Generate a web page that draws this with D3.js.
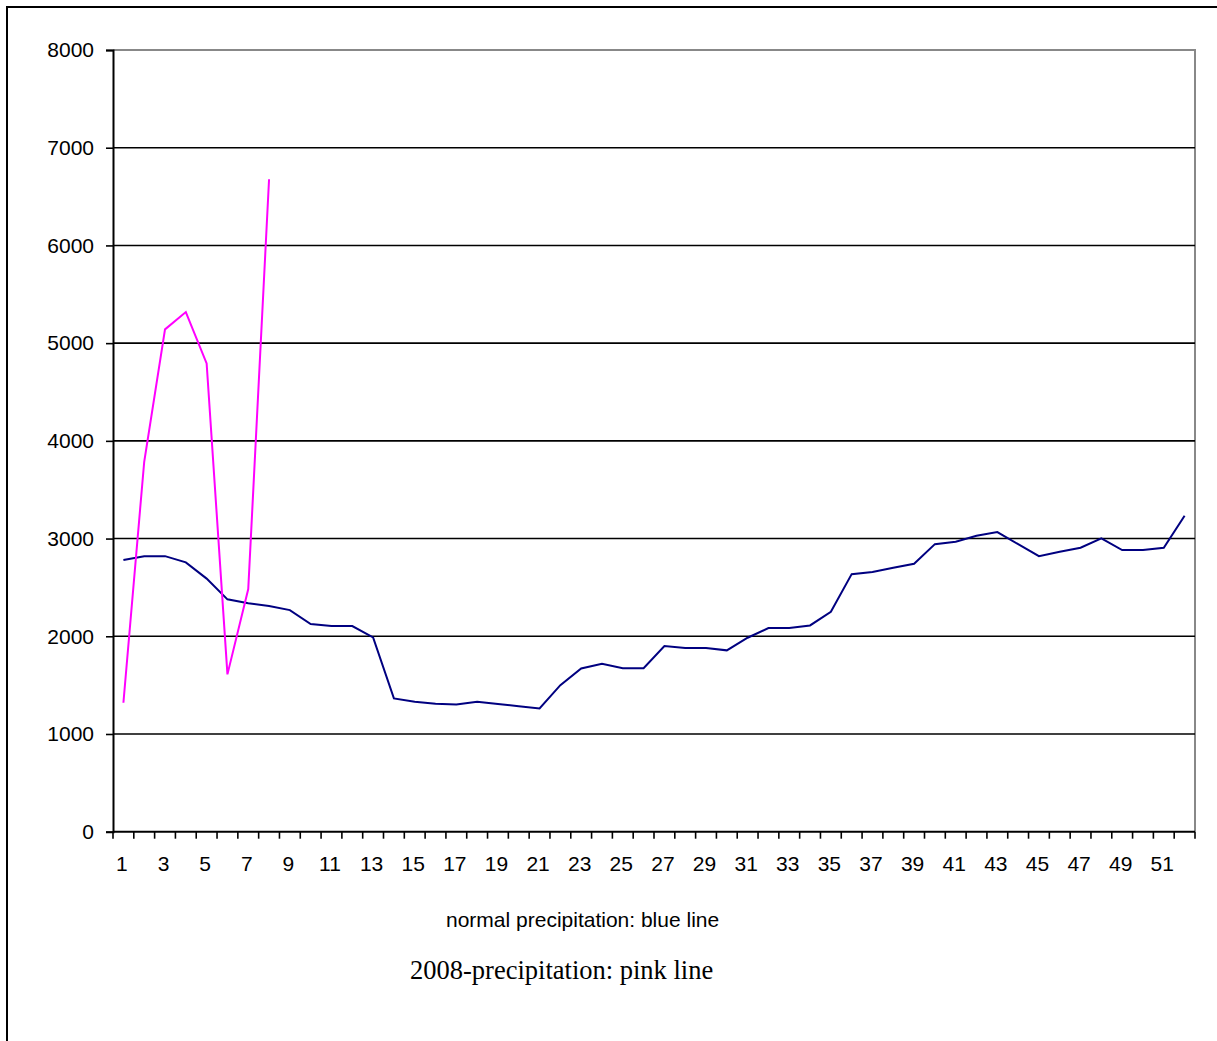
<!DOCTYPE html>
<html lang="en">
<head>
    <meta charset="UTF-8">
    <title>Precipitation</title>
    <script src="https://d3js.org/d3.v7.min.js"></script>
    <style>
        body { margin: 0; background: #fff; }
        .tick text { font-family: Arial, "Liberation Sans", sans-serif; font-size: 21px; fill: #000; }
        .note { font-family: Arial, "Liberation Sans", sans-serif; font-size: 21px; }
        .note2 { font-family: "Times New Roman", "Liberation Serif", serif; font-size: 26.5px; }
    </style>
</head>
<body>
    <div id="chart"></div>

    <script>
        // week numbers
        const weeks = d3.range(1, 53);
        // normal precipitation (blue line)
        const normal = [2780, 2820, 2820, 2756, 2590, 2378, 2337, 2309, 2268, 2125,
                        2104, 2104, 1989, 1364, 1330, 1309, 1303, 1330, 1306, 1285,
                        1262, 1500, 1671, 1719, 1674, 1674, 1900, 1879, 1879, 1856,
                        1985, 2084, 2084, 2111, 2250, 2636, 2657, 2701, 2742, 2943,
                        2967, 3029, 3066, 2943, 2820, 2865, 2906, 3002, 2882, 2882,
                        2906, 3233];
        // 2008 precipitation (pink line), only first 8 weeks
        const y2008 = [1320, 3786, 5141, 5318, 4793, 1610, 2483, 6677];
        const yTicks = [0, 1000, 2000, 3000, 4000, 5000, 6000, 7000, 8000];

        const svg = d3.select("#chart").append("svg").attr("width", 1217).attr("height", 1041);

        // outer frame
        svg.append("rect").attr("x", 7).attr("y", 7).attr("width", 1240).attr("height", 1060)
            .attr("fill", "none").attr("stroke", "#000").attr("stroke-width", 2);

        const x = d3.scaleBand().domain(weeks).range([113, 1195]).padding(0);
        const y = d3.scaleLinear().domain([0, 8000]).range([831.7, 50]);

        // plot area border (gray)
        svg.append("path")
            .attr("d", `M${x.range()[0]},${y(8000)}H${x.range()[1]}V${y(0)}`)
            .attr("fill", "none").attr("stroke", "#888").attr("stroke-width", 2);

        // gridlines
        svg.append("g").selectAll("line")
            .data(yTicks.filter(d => d > 0 && d < 8000))
            .enter().append("line")
            .attr("x1", x.range()[0]).attr("x2", x.range()[1])
            .attr("y1", d => y(d)).attr("y2", d => y(d))
            .attr("stroke", "#000").attr("stroke-width", 1.6);

        // y axis
        const yAxis = svg.append("g").attr("transform", `translate(${x.range()[0]},0)`)
            .call(d3.axisLeft(y).tickValues(yTicks).tickSize(7).tickPadding(12).tickFormat(d3.format("d")));
        yAxis.selectAll("line").attr("stroke", "#000").attr("stroke-width", 1.6);
        yAxis.select(".domain").attr("stroke", "#000").attr("stroke-width", 2);

        // x axis: ticks at category boundaries, labels at odd categories
        const xg = svg.append("g");
        xg.append("line").attr("x1", x.range()[0]).attr("x2", x.range()[1])
            .attr("y1", y(0)).attr("y2", y(0)).attr("stroke", "#000").attr("stroke-width", 2);
        xg.selectAll("line.t")
            .data(weeks.map(d => x(d)).concat([x.range()[1]]))
            .enter().append("line").attr("class", "t")
            .attr("x1", d => d).attr("x2", d => d)
            .attr("y1", y(0)).attr("y2", y(0) + 7)
            .attr("stroke", "#000").attr("stroke-width", 1.6);
        xg.selectAll("text")
            .data(weeks.filter(d => d % 2 === 1))
            .enter().append("text")
            .attr("class", "tick")
            .attr("x", d => x(d) + x.bandwidth() / 2 - 1.5)
            .attr("y", y(0) + 39)
            .attr("text-anchor", "middle")
            .style("font-family", "Arial, 'Liberation Sans', sans-serif")
            .style("font-size", "21px")
            .text(d => d);

        const line = d3.line().x((d, i) => x(weeks[i]) + x.bandwidth() / 2).y(d => y(d));

        svg.append("path").datum(normal)
            .attr("d", line).attr("fill", "none")
            .attr("stroke", "#000080").attr("stroke-width", 2);

        svg.append("path").datum(y2008)
            .attr("d", line).attr("fill", "none")
            .attr("stroke", "#FF00FF").attr("stroke-width", 2);

        svg.append("text").attr("class", "note").attr("x", 446).attr("y", 927)
            .text("normal precipitation: blue line");
        svg.append("text").attr("class", "note2").attr("x", 410).attr("y", 979)
            .text("2008-precipitation: pink line");
    </script>
</body>
</html>
